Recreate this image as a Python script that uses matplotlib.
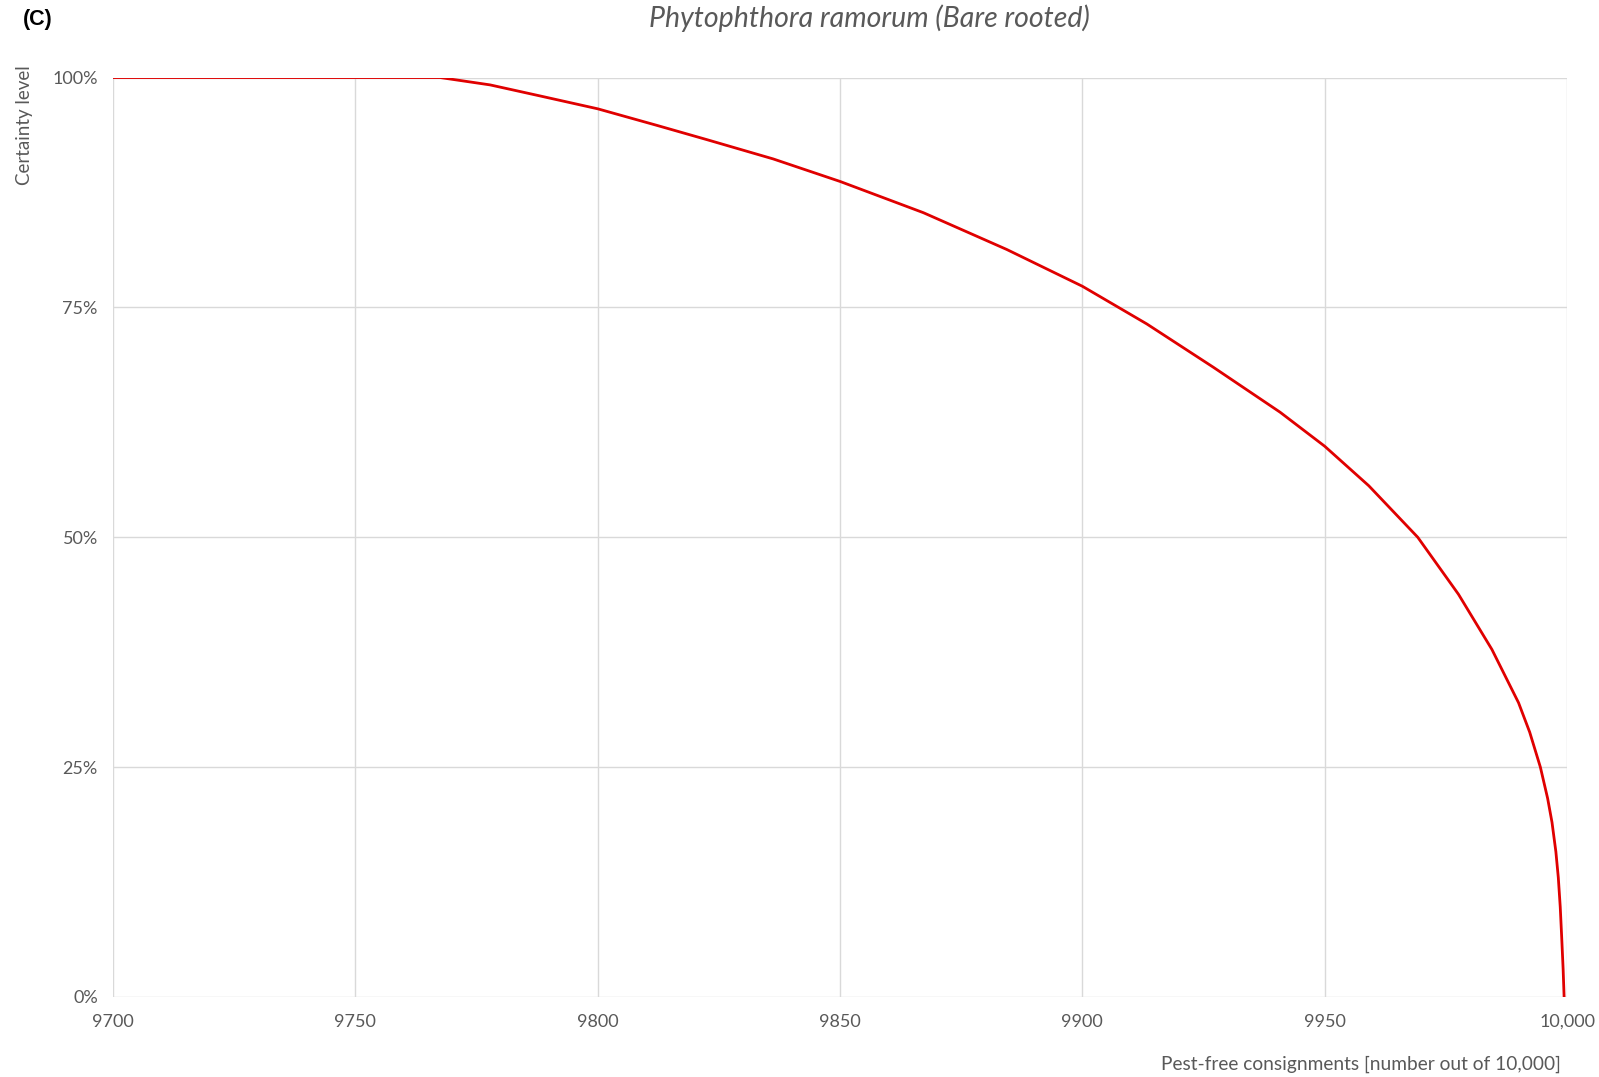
import matplotlib
matplotlib.use("Agg")
import matplotlib.pyplot as plt
from matplotlib.ticker import FuncFormatter

# certainty curve for pest-free consignments (out of 10,000)
pest_free = [9700, 9767.5, 9777.8, 9788.1, 9800, 9812.2, 9822.5, 9836.2, 9850,
             9867.2, 9884.4, 9900, 9913.3, 9927.0, 9940.8, 9950, 9959.1,
             9969.2, 9977.6, 9984.5, 9990.0, 9992.3, 9994.5, 9996.0, 9996.9,
             9997.7, 9998.2, 9998.6, 9998.9, 9999.2, 9999.4]
certainty = [100, 100, 99.2, 98.0, 96.6, 94.8, 93.25, 91.15, 88.7,
             85.3, 81.3, 77.3, 73.2, 68.5, 63.6, 59.9, 55.6,
             50.0, 43.8, 37.8, 32.0, 28.8, 25.0, 21.6, 19.0,
             15.8, 13.0, 9.8, 6.5, 3.0, 0.0]

x_ticks = [9700, 9750, 9800, 9850, 9900, 9950, 10000]
y_ticks = [0, 25, 50, 75, 100]

txt = "#595959"
grid = "#d9d9d9"
plt.rcParams['font.family'] = ['Lato', 'DejaVu Sans']

fig = plt.figure(figsize=(15.99, 10.77), dpi=100)
ax = fig.add_axes([0.0707, 0.0743, 0.9093, 0.8537])

ax.plot(pest_free, certainty, color="#e00000", lw=2.0, solid_joinstyle="round", zorder=3)

ax.set_xlim(9700, 10000)
ax.set_ylim(0, 100)
ax.set_xticks(x_ticks)
ax.set_yticks(y_ticks)
ax.xaxis.set_major_formatter(FuncFormatter(lambda v, p: "10,000" if v >= 10000 else "%d" % v))
ax.yaxis.set_major_formatter(FuncFormatter(lambda v, p: "%d%%" % v))
ax.grid(True, color=grid, lw=1.0)
ax.set_axisbelow(True)
for s in ax.spines.values():
    s.set_visible(False)
ax.tick_params(length=0, labelsize=13, colors=txt, pad=12)
ax.tick_params(axis="y", pad=11)

fig.text(0.544, 0.983, "Phytophthora ramorum (Bare rooted)", ha="center", va="center",
         fontsize=20.5, style="italic", color=txt)
fig.text(0.014, 0.982, "(C)", ha="left", va="center", fontsize=15.5, fontweight="bold",
         family="Liberation Sans", color="black")
fig.text(0.0155, 0.939, "Certainty level", rotation=90, ha="center", va="top",
         fontsize=13.5, color=txt)
fig.text(0.976, 0.012, "Pest-free consignments [number out of 10,000]", ha="right",
         va="center", fontsize=13.8, color=txt)

fig.savefig("out.png", dpi=100, facecolor="white")
